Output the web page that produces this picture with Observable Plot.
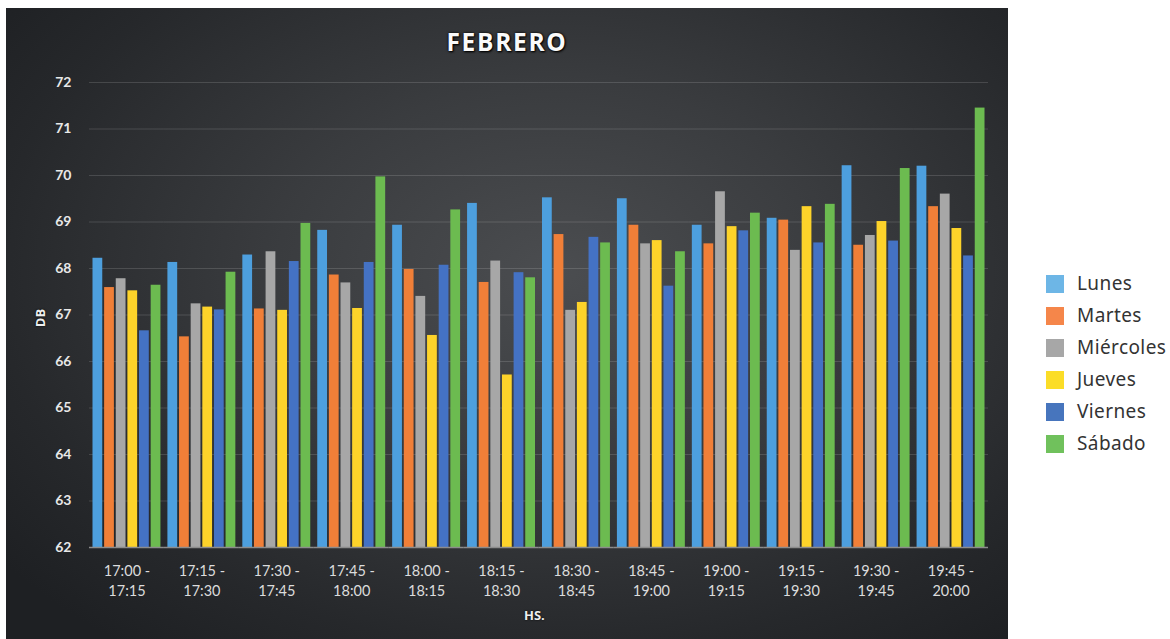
<!DOCTYPE html>
<html><head><meta charset="utf-8">
<script src="https://cdn.jsdelivr.net/npm/d3@7"></script>
<script src="https://cdn.jsdelivr.net/npm/@observablehq/plot@0.6"></script>
<style>
html,body{margin:0;padding:0;background:#fff;}
#wrap{position:relative;width:1170px;height:639px;overflow:hidden;}
#panel{position:absolute;left:6px;top:8px;width:1002px;height:631px;
 background:radial-gradient(ellipse 70% 75% at 55% 42%, #4b4d50 0%, #3a3c3f 40%, #26282b 80%, #1e2023 100%);}
#chart{position:absolute;left:0;top:0;}
#title{position:absolute;left:0;width:1002px;top:17px;text-align:center;
 font-family:"Open Sans",sans-serif;font-weight:700;font-size:24.5px;letter-spacing:1.7px;color:#fafafa;
 text-shadow:0 0 3px #000,1px 1px 2px #000;}
.lab{position:absolute;font-family:"Open Sans",sans-serif;font-weight:700;color:#eee;font-size:13px;text-shadow:0 0 2px #000;}
#legend{position:absolute;left:1046px;top:275px;font-family:"Noto Sans",sans-serif;font-size:19px;letter-spacing:0.4px;color:#333;}
.row{position:relative;height:32px;}
.sw{position:absolute;left:0;top:0;width:18px;height:18px;}
.tx{position:absolute;left:31px;top:-5px;line-height:26px;white-space:nowrap;}
</style></head><body>
<div id="wrap">
 <div id="panel">
  <div id="chart"></div>
  <div id="title">FEBRERO</div>
  <div class="lab" id="ylab" style="left:25px;top:301px;transform:rotate(-90deg);">DB</div>
  <div class="lab" id="xlab" style="left:518px;top:598px;">HS.</div>
 </div>
 <div id="legend"></div>
</div>
<script>
const slots = ["17:00 - 17:15","17:15 - 17:30","17:30 - 17:45","17:45 - 18:00","18:00 - 18:15","18:15 - 18:30",
               "18:30 - 18:45","18:45 - 19:00","19:00 - 19:15","19:15 - 19:30","19:30 - 19:45","19:45 - 20:00"];
const days = ["Lunes","Martes","Miércoles","Jueves","Viernes","Sábado"];
const lunes     = [68.22, 68.13, 68.29, 68.82, 68.93, 69.40, 69.52, 69.50, 68.93, 69.08, 70.21, 70.20];
const martes    = [67.59, 66.53, 67.13, 67.86, 67.98, 67.70, 68.73, 68.93, 68.53, 69.04, 68.50, 69.33];
const miercoles = [67.78, 67.24, 68.36, 67.69, 67.40, 68.16, 67.10, 68.53, 69.65, 68.39, 68.71, 69.60];
const jueves    = [67.52, 67.17, 67.10, 67.14, 66.56, 65.71, 67.27, 68.60, 68.90, 69.33, 69.01, 68.86];
const viernes   = [66.66, 67.11, 68.15, 68.13, 68.07, 67.91, 68.67, 67.62, 68.81, 68.55, 68.59, 68.27];
const sabado    = [67.64, 67.92, 68.97, 69.97, 69.26, 67.80, 68.55, 68.36, 69.19, 69.38, 70.15, 71.45];
const yTicks = [62,63,64,65,66,67,68,69,70,71,72];
const barColors = ["#4d9fde","#f07f38","#a7a7a7","#fdd32a","#4472c4","#6cbb50"];
const legendColors = ["#6db6e6","#f5864a","#a7a7a7","#fbdd27","#4775bd","#70c15c"];

const series = [lunes, martes, miercoles, jueves, viernes, sabado];
const data = [];
slots.forEach((s, i) => days.forEach((d, j) => data.push({slot: s, day: d, value: series[j][i]})));

const chart = Plot.plot({
  width: 1002, height: 631,
  marginLeft: 83, marginRight: 20, marginTop: 74, marginBottom: 92,
  style: {background: "transparent", color: "#e4e4e4", fontFamily: "Lato, sans-serif"},
  fx: {domain: slots, paddingInner: 0, paddingOuter: 0, round: false, label: null},
  x: {domain: days, paddingInner: 0.16, paddingOuter: 0.3, round: false, axis: null},
  y: {domain: [62, 72], label: null},
  color: {domain: days, range: barColors},
  marks: [
    Plot.gridY(yTicks, {stroke: "#ffffff", strokeOpacity: 0.14}),
    Plot.barY(data, {fx: "slot", x: "day", y1: 62, y2: "value", fill: "day"}),
    Plot.ruleY([62], {stroke: "#8c8c8c", strokeWidth: 1.5}),
    Plot.axisY(yTicks, {tickSize: 0, tickPadding: 18, label: null, fontSize: 14, fontWeight: "bold", fill: "#e8e8e8"}),
    Plot.axisFx({anchor: "bottom", tickSize: 0, tickPadding: 14, label: null, fontSize: 14.5, fill: "#dcdcdc",
                 lineHeight: 1.4, tickFormat: s => s.replace(" - ", " -\n")})
  ]
});
document.getElementById("chart").appendChild(chart);

const leg = document.getElementById("legend");
days.forEach((d, i) => {
  const r = document.createElement("div"); r.className = "row";
  const sw = document.createElement("div"); sw.className = "sw"; sw.style.background = legendColors[i];
  const tx = document.createElement("div"); tx.className = "tx"; tx.textContent = d;
  r.appendChild(sw); r.appendChild(tx); leg.appendChild(r);
});
</script>
</body></html>
